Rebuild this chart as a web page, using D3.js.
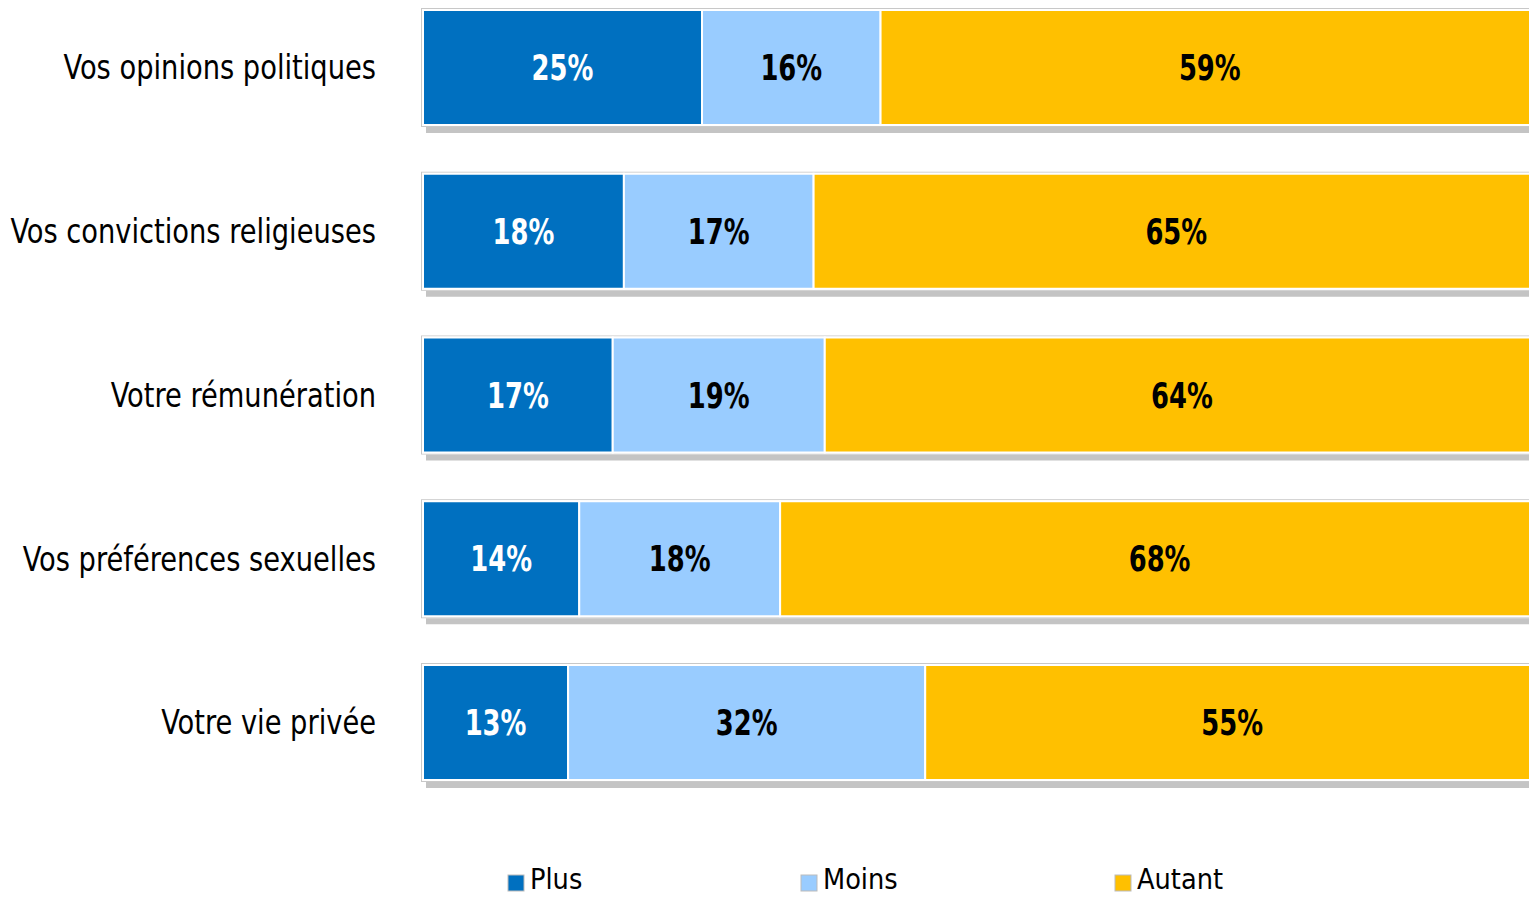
<!DOCTYPE html>
<html><head><meta charset="utf-8">
<script src="https://cdn.jsdelivr.net/npm/d3@7"></script>
<style>body{margin:0;background:#fff}svg{display:block}</style>
</head><body>
<svg id="c" width="1529" height="897"></svg>
<script>
const categories = ["Vos opinions politiques","Vos convictions religieuses","Votre rémunération","Vos préférences sexuelles","Votre vie privée"];
const seriesNames = ["Plus","Moins","Autant"];
const plus = [25,18,17,14,13];
const moins = [16,17,19,18,32];
const autant = [59,65,64,68,55];
const colors = ["#0070C0","#99CCFF","#FFC000"];
const labelColors = ["#ffffff","#000000","#000000"];

const svg = d3.select("#c");
const font = "'DejaVu Sans Condensed','DejaVu Sans',sans-serif";
const x = d3.scaleLinear().domain([0,100]).range([423,1539]);
const y = d3.scaleBand().domain(categories).range([10,780]).paddingInner(0.2977).paddingOuter(0);

const rows = categories.map((c,i)=>({cat:c, Plus:plus[i], Moins:moins[i], Autant:autant[i]}));
const stack = d3.stack().keys(seriesNames)(rows);

const g = svg.append("g");
g.selectAll("rect.shadow").data(categories).join("rect")
  .attr("x", x(0)+3).attr("y", d=>y(d)+y.bandwidth()+2)
  .attr("width", x(100)-x(0)).attr("height", 6)
  .attr("fill", "#c4c4c4");
g.selectAll("rect.frame").data(categories).join("rect")
  .attr("x", x(0)-1.5).attr("y", d=>y(d)-1.5)
  .attr("width", x(100)-x(0)+3).attr("height", y.bandwidth()+3)
  .attr("fill", "#fff").attr("stroke", "#c8c8c8").attr("stroke-width", 1);

stack.forEach((s,si)=>{
  const sg = svg.append("g");
  sg.selectAll("rect").data(s).join("rect")
    .attr("x", d=>x(d[0])).attr("y", d=>y(d.data.cat))
    .attr("width", d=>x(d[1])-x(d[0])).attr("height", y.bandwidth())
    .attr("fill", colors[si]).attr("stroke", "#fff").attr("stroke-width", 2);
  sg.selectAll("text").data(s).join("text")
    .attr("transform", d=>{
      const cx = (x(d[0])+x(d[1]))/2, cy = y(d.data.cat)+y.bandwidth()/2;
      return `translate(${cx},${cy}) scale(0.82,1)`;
    })
    .attr("dy","0.36em").attr("text-anchor","middle")
    .attr("font-family", font).attr("font-weight","bold").attr("font-size", 35)
    .attr("fill", labelColors[si])
    .text(d=>(d[1]-d[0])+"%");
});

svg.append("g").selectAll("text").data(categories).join("text")
  .attr("transform", d=>`translate(376,${y(d)+y.bandwidth()/2}) scale(0.92,1)`)
  .attr("dy","0.36em").attr("text-anchor","end")
  .attr("font-family", font).attr("font-size", 33).attr("fill","#000")
  .text(d=>d);

const legX = [508, 801, 1115];
const lg = svg.append("g");
seriesNames.forEach((n,i)=>{
  lg.append("rect").attr("x", legX[i]).attr("y", 875).attr("width", 16).attr("height", 16)
    .attr("fill", colors[i]).attr("stroke","#bbb").attr("stroke-width",1);
  lg.append("text").attr("transform", `translate(${legX[i]+22},889) scale(1.02,1)`)
    .attr("font-family", font).attr("font-size", 28).attr("fill","#000").text(n);
});
</script>
</body></html>
